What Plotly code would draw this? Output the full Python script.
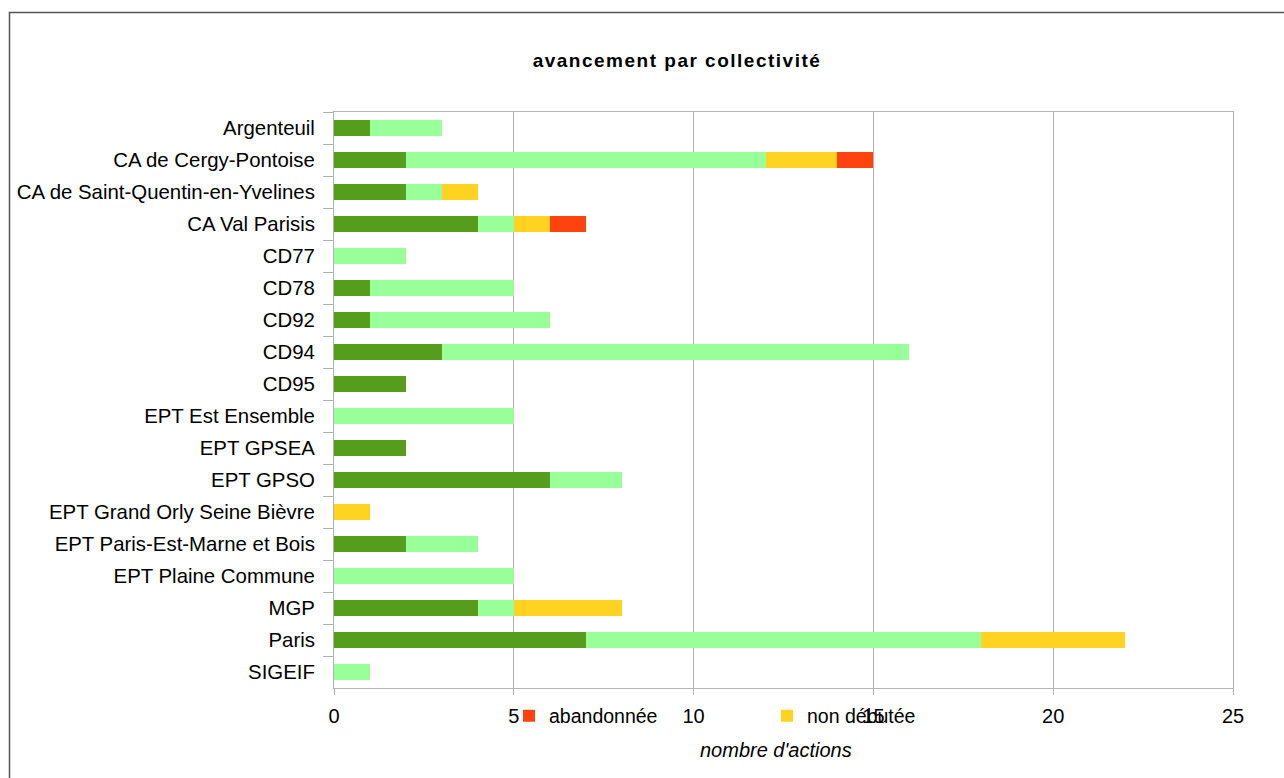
import plotly.graph_objects as go

categories = ["Argenteuil", "CA de Cergy-Pontoise", "CA de Saint-Quentin-en-Yvelines",
              "CA Val Parisis", "CD77", "CD78", "CD92", "CD94", "CD95", "EPT Est Ensemble",
              "EPT GPSEA", "EPT GPSO", "EPT Grand Orly Seine Bièvre",
              "EPT Paris-Est-Marne et Bois", "EPT Plaine Commune", "MGP", "Paris", "SIGEIF"]
realisee = [1, 2, 2, 4, 0, 1, 1, 3, 2, 0, 2, 6, 0, 2, 0, 4, 7, 0]
en_cours = [2, 10, 1, 1, 2, 4, 5, 13, 0, 5, 0, 2, 0, 2, 5, 1, 11, 1]
non_debutee = [0, 2, 1, 1, 0, 0, 0, 0, 0, 0, 0, 0, 1, 0, 0, 3, 4, 0]
abandonnee = [0, 1, 0, 1, 0, 0, 0, 0, 0, 0, 0, 0, 0, 0, 0, 0, 0, 0]
x_ticks = [0, 5, 10, 15, 20, 25]

W, H = 1284, 778
L, R, T, B = 334, 51, 112, 90
PW, PH = W - L - R, H - T - B

fig = go.Figure()
series = [("réalisée", realisee, "#579d1c", False),
          ("en cours", en_cours, "#99ff99", False),
          ("non débutée", non_debutee, "#ffd320", True),
          ("abandonnée", abandonnee, "#ff420e", True)]
for name, vals, col, show in series:
    fig.add_trace(go.Bar(y=categories, x=vals, name=name, orientation="h",
                         marker=dict(color=col, line=dict(width=0)),
                         showlegend=show, width=0.5))

fig.update_layout(
    width=W, height=H, barmode="stack",
    margin=dict(l=L, r=R, t=T, b=B, autoexpand=False),
    paper_bgcolor="white", plot_bgcolor="white",
    font=dict(family="Liberation Sans, Arial, sans-serif", color="black", size=20),
    title=dict(text="<b>avancement par collectivité</b>", x=677 / W, xanchor="center",
               xref="container", y=1 - 60 / H, yref="container", yanchor="middle",
               font=dict(size=19, family="Liberation Sans, sans-serif")),
    legend=dict(orientation="h", traceorder="reversed", xref="container", yref="container",
                x=509 / W, y=1 - 716 / H, xanchor="left", yanchor="middle",
                entrywidth=213, entrywidthmode="pixels", bgcolor="rgba(0,0,0,0)",
                font=dict(size=19.5)),
    bargap=0.5,
    annotations=[dict(text="<i>nombre d'actions</i>", xref="paper", yref="paper",
                      x=(776 - L) / PW, y=(688 - 750) / PH, xanchor="center", yanchor="middle",
                      showarrow=False, font=dict(size=20))],
)
fig.update_xaxes(range=[0, 25], tickvals=x_ticks, showgrid=True, gridcolor="#b3b3b3",
                 gridwidth=1, zeroline=False, showline=True, linecolor="#b3b3b3", mirror=True,
                 ticks="outside", ticklen=6, tickcolor="#b3b3b3", ticklabelstandoff=4,
                 tickfont=dict(size=20))
fig.update_yaxes(autorange="reversed", showgrid=False, showline=True, linecolor="#b3b3b3",
                 mirror=True, ticks="outside", ticklen=10, tickcolor="#b3b3b3",
                 tickson="boundaries", ticklabelstandoff=14, tickfont=dict(size=20.4))

fig.add_shape(type="rect", xref="paper", yref="paper",
              x0=(9.5 - L) / PW, x1=1.2,
              y0=-0.3, y1=1 + (T - 12.5) / PH,
              line=dict(color="#555555", width=1.5), fillcolor="rgba(0,0,0,0)", layer="below")

post = ("document.body.style.margin='0';"
        "var s=document.createElement('style');"
        "s.textContent='.gtitle{letter-spacing:1.5px;}';"
        "document.head.appendChild(s);")
fig.write_html("out.html", post_script=post, config={"displayModeBar": False})
